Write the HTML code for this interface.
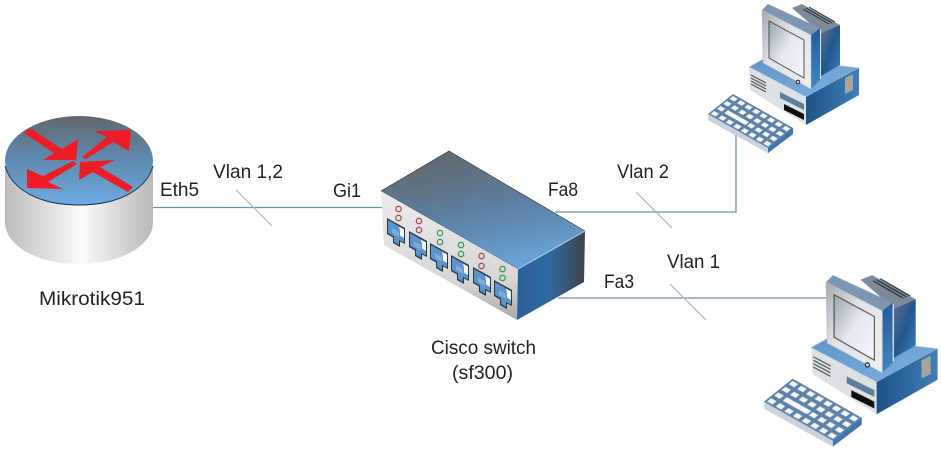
<!DOCTYPE html>
<html><head><meta charset="utf-8"><style>
html,body{margin:0;padding:0;background:#fff;width:941px;height:449px;overflow:hidden}
svg{display:block}
text{font-family:"Liberation Sans",sans-serif;font-size:19.5px;fill:#222}
</style></head><body>
<svg width="941" height="449" viewBox="0 0 941 449" xmlns="http://www.w3.org/2000/svg">
<defs>
<filter id="soft" x="-5%" y="-5%" width="110%" height="110%"><feGaussianBlur stdDeviation="0.35"/></filter>
<linearGradient id="top" x1="0" y1="0" x2="0" y2="1"><stop offset="0" stop-color="#62686e"/><stop offset=".45" stop-color="#5f87ab"/><stop offset="1" stop-color="#6dabe2"/></linearGradient>
<linearGradient id="swtop" x1=".25" y1="0" x2=".6" y2="1"><stop offset="0" stop-color="#62676c"/><stop offset=".5" stop-color="#5b7f9f"/><stop offset="1" stop-color="#6ba3d8"/></linearGradient>
<linearGradient id="side" x1="0" y1="0" x2="1" y2="0"><stop offset="0" stop-color="#bcbcbc"/><stop offset=".52" stop-color="#fbfbfb"/><stop offset="1" stop-color="#b8b8b8"/></linearGradient>
<linearGradient id="swfront" x1="0" y1="0" x2="0" y2="1"><stop offset="0" stop-color="#ececec"/><stop offset=".7" stop-color="#d6d6d6"/><stop offset="1" stop-color="#a8a8a8"/></linearGradient>
<linearGradient id="swright" x1="0" y1="0" x2="1" y2="0"><stop offset="0" stop-color="#2c5f96"/><stop offset=".45" stop-color="#2f6aa4"/><stop offset="1" stop-color="#3d4349"/></linearGradient>
<linearGradient id="screen" x1="0" y1="0" x2="1" y2="1"><stop offset="0" stop-color="#9aa3ad"/><stop offset=".5" stop-color="#e6e9f2"/><stop offset="1" stop-color="#f6f7fb"/></linearGradient>
<linearGradient id="bezel" x1="0" y1="0" x2="1" y2="1"><stop offset="0" stop-color="#a4a9af"/><stop offset=".4" stop-color="#e2e3e6"/><stop offset="1" stop-color="#eeeeee"/></linearGradient>
<linearGradient id="mside" x1="0" y1="0" x2="0" y2="1"><stop offset="0" stop-color="#245c96"/><stop offset="1" stop-color="#3f86c6"/></linearGradient>
<linearGradient id="mrear" x1="0" y1="0" x2="1" y2="1"><stop offset="0" stop-color="#5d748c"/><stop offset=".5" stop-color="#24568c"/><stop offset="1" stop-color="#3b7fbe"/></linearGradient>
<linearGradient id="btop" x1="0" y1="0" x2="1" y2="1"><stop offset="0" stop-color="#5f94c6"/><stop offset="1" stop-color="#7fb2e0"/></linearGradient>
<linearGradient id="bright" x1="0" y1="0" x2="1" y2="0"><stop offset="0" stop-color="#1f5388"/><stop offset="1" stop-color="#3f7fb8"/></linearGradient>
<pattern id="keys" patternUnits="userSpaceOnUse" width="12.5" height="25"><rect width="12.5" height="25" fill="#5d82a8"/><rect x="2.5" y="6" width="8" height="14" fill="#f4f6fa"/></pattern>
<g id="port">
<path d="M0 0 L18 10 V26 L13 23.500 V29 L6 25 V19.500 L0 16Z" fill="#2a3640"/>
<path d="M1 2 L17 11 V24.500 L12 22 V27 L7 24 V18.500 L1 15Z" fill="#5a94cc"/>
<path d="M12 8.700 L17 11.500 V20 L13 17.500 V13Z" fill="#f4f6f8"/>
<path d="M5 10 L12 14 V19 L5 15Z" fill="#7fabd6"/>
</g>
<g id="pc">
<path d="M749 67 L767 57 L859 68 L806 97Z" fill="url(#btop)" stroke="#a9c8e4" stroke-width=".7"/>
<path d="M749 67 L806 97 V125 L750 90Z" fill="#dde1e5"/>
<path d="M806 97 L859 68 V95 L806 125Z" fill="url(#bright)"/>
<path d="M751 75 L766 83 M751 78 L766 86 M751 81 L766 89 M751 84 L766 92" stroke="#4a4f55" stroke-width="1"/>
<path d="M780 92 L804 104 V110 L780 98Z" fill="#5d7f9e"/>
<path d="M784 104 L804 114 V120 L784 110Z" fill="#111"/>
<path d="M845 78 L853 74 V90 L845 94Z" fill="#a7a49b"/>
<path d="M792 8 L802 4 L840 25 L821 33Z" fill="#7d8b99"/>
<path d="M821 33 L840 25 V65 L821 76Z" fill="url(#mrear)"/>
<path d="M803 9 L829 24 M806 8 L832 23 M809 7 L835 22" stroke="#1e2b38" stroke-width="1"/>
<path d="M762 10 L768 4 L820 28 L811 35Z" fill="#7d97b2"/>
<path d="M811 35 L820 28 V80 L811 89Z" fill="url(#mside)"/>
<path d="M820.500 29 V79" stroke="#dfe8f1" stroke-width="1"/>
<path d="M762 10 L811 35 V89 L763 63Z" fill="url(#bezel)" stroke="#aebdcb" stroke-width=".5"/>
<path d="M769 21 L804 40 V78 L769 58Z" fill="url(#screen)" stroke="#444" stroke-width=".9"/>
<circle cx="798" cy="82" r="1.8" fill="#ddd" stroke="#222" stroke-width="1"/>
<path d="M708 114 L768 148 L793 128 V134 L768 153 L708 120Z" fill="#7e93aa"/>
<path d="M708 114 L768 148 V153 L708 120Z" fill="#ccd3da"/>
<path d="M768 148 L793 128 V134 L768 153Z" fill="#3d74ad"/>
<g transform="matrix(.6,.34,-.25,.2,733,94)">
<rect width="100" height="100" fill="url(#keys)"/>
<rect x="15" y="56" width="35" height="14" fill="#f4f6fa"/>
</g>
</g>
</defs>
<rect width="941" height="449" fill="#fff"/>

<g fill="none" stroke="#6f93a8" stroke-width="1.3">
<path d="M153 207.500 H382"/>
<path d="M555 212 H736 V134"/>
<path d="M558 298 H828"/>
</g>
<g stroke="#a7b3ba" stroke-width="1.1">
<path d="M236 190 L272 226"/>
<path d="M636 192 L672 228"/>
<path d="M670 284 L706 320"/>
</g>

<g filter="url(#soft)">
<!-- Router -->
<path d="M5 166 V222 C5 246 38 264 79 264 C120 264 153 246 153 222 V166Z" fill="url(#side)"/>
<ellipse cx="79" cy="160.500" rx="74" ry="44.500" fill="url(#top)"/>
<path d="M5 166 C12 190 40 205 79 205 C118 205 146 190 153 166" fill="none" stroke="#1f3350" stroke-width="1"/>
<g fill="#ee1c25">
<path d="M30 128 L62 149 L78 139 L76 160 L43 160 L54 153 L24 133Z"/>
<path d="M131 130 L129 151 L113 142 L86 159 L82 157 L107 137 L94 131Z"/>
<path d="M27 188 L27 169 L43 176 L73 161 L77 164 L48 182 L63 189Z"/>
<path d="M80 162 L115 160 L100 167 L133 187 L128 192 L93 172 L79 180Z"/>
</g>

<!-- Switch -->
<path d="M381 191 L449 151 L585 231 L518 269Z" fill="url(#swtop)" stroke="#2f3a45" stroke-width=".6"/>
<path d="M381 191 L518 269 L517 320 L384 245Z" fill="url(#swfront)"/>
<path d="M518 269 L585 231 L584 282 L517 320Z" fill="url(#swright)"/>
<path d="M518 269 L585 231" stroke="#bcd6ee" stroke-width="1"/>
<use href="#port" x="387" y="218"/>
<use href="#port" x="409" y="231"/>
<use href="#port" x="430" y="243"/>
<use href="#port" x="451" y="255"/>
<use href="#port" x="473" y="267"/>
<use href="#port" x="494" y="280"/>
<g fill="none" stroke-width="1.3">
<g stroke="#a8505a"><circle cx="398.500" cy="209" r="2.700"/><circle cx="398.500" cy="218" r="2.700"/><circle cx="419" cy="221" r="2.700"/><circle cx="419" cy="230" r="2.700"/><circle cx="481.500" cy="256" r="2.700"/><circle cx="481.500" cy="266" r="2.700"/></g>
<g stroke="#3f9a58"><circle cx="440" cy="233" r="2.700"/><circle cx="440" cy="242" r="2.700"/><circle cx="461" cy="245" r="2.700"/><circle cx="461" cy="254" r="2.700"/><circle cx="502.500" cy="269" r="2.700"/><circle cx="502.500" cy="278" r="2.700"/></g>
</g>

<!-- Computers -->
<use href="#pc"/>
<use href="#pc" transform="translate(-50.3,270.5) scale(1.15)"/>
</g>

<!-- Labels -->
<text x="160" y="196" textLength="39" lengthAdjust="spacingAndGlyphs">Eth5</text>
<text x="213" y="178" textLength="70" lengthAdjust="spacingAndGlyphs">Vlan 1,2</text>
<text x="333" y="197" textLength="28" lengthAdjust="spacingAndGlyphs">Gi1</text>
<text x="548" y="196" textLength="30" lengthAdjust="spacingAndGlyphs">Fa8</text>
<text x="617" y="178" textLength="52" lengthAdjust="spacingAndGlyphs">Vlan 2</text>
<text x="604" y="288" textLength="30" lengthAdjust="spacingAndGlyphs">Fa3</text>
<text x="667" y="268" textLength="53" lengthAdjust="spacingAndGlyphs">Vlan 1</text>
<text x="39" y="305" textLength="106" lengthAdjust="spacingAndGlyphs">Mikrotik951</text>
<text x="431" y="354" textLength="105" lengthAdjust="spacingAndGlyphs">Cisco switch</text>
<text x="452" y="379" textLength="61" lengthAdjust="spacingAndGlyphs">(sf300)</text>
</svg>
</body></html>
